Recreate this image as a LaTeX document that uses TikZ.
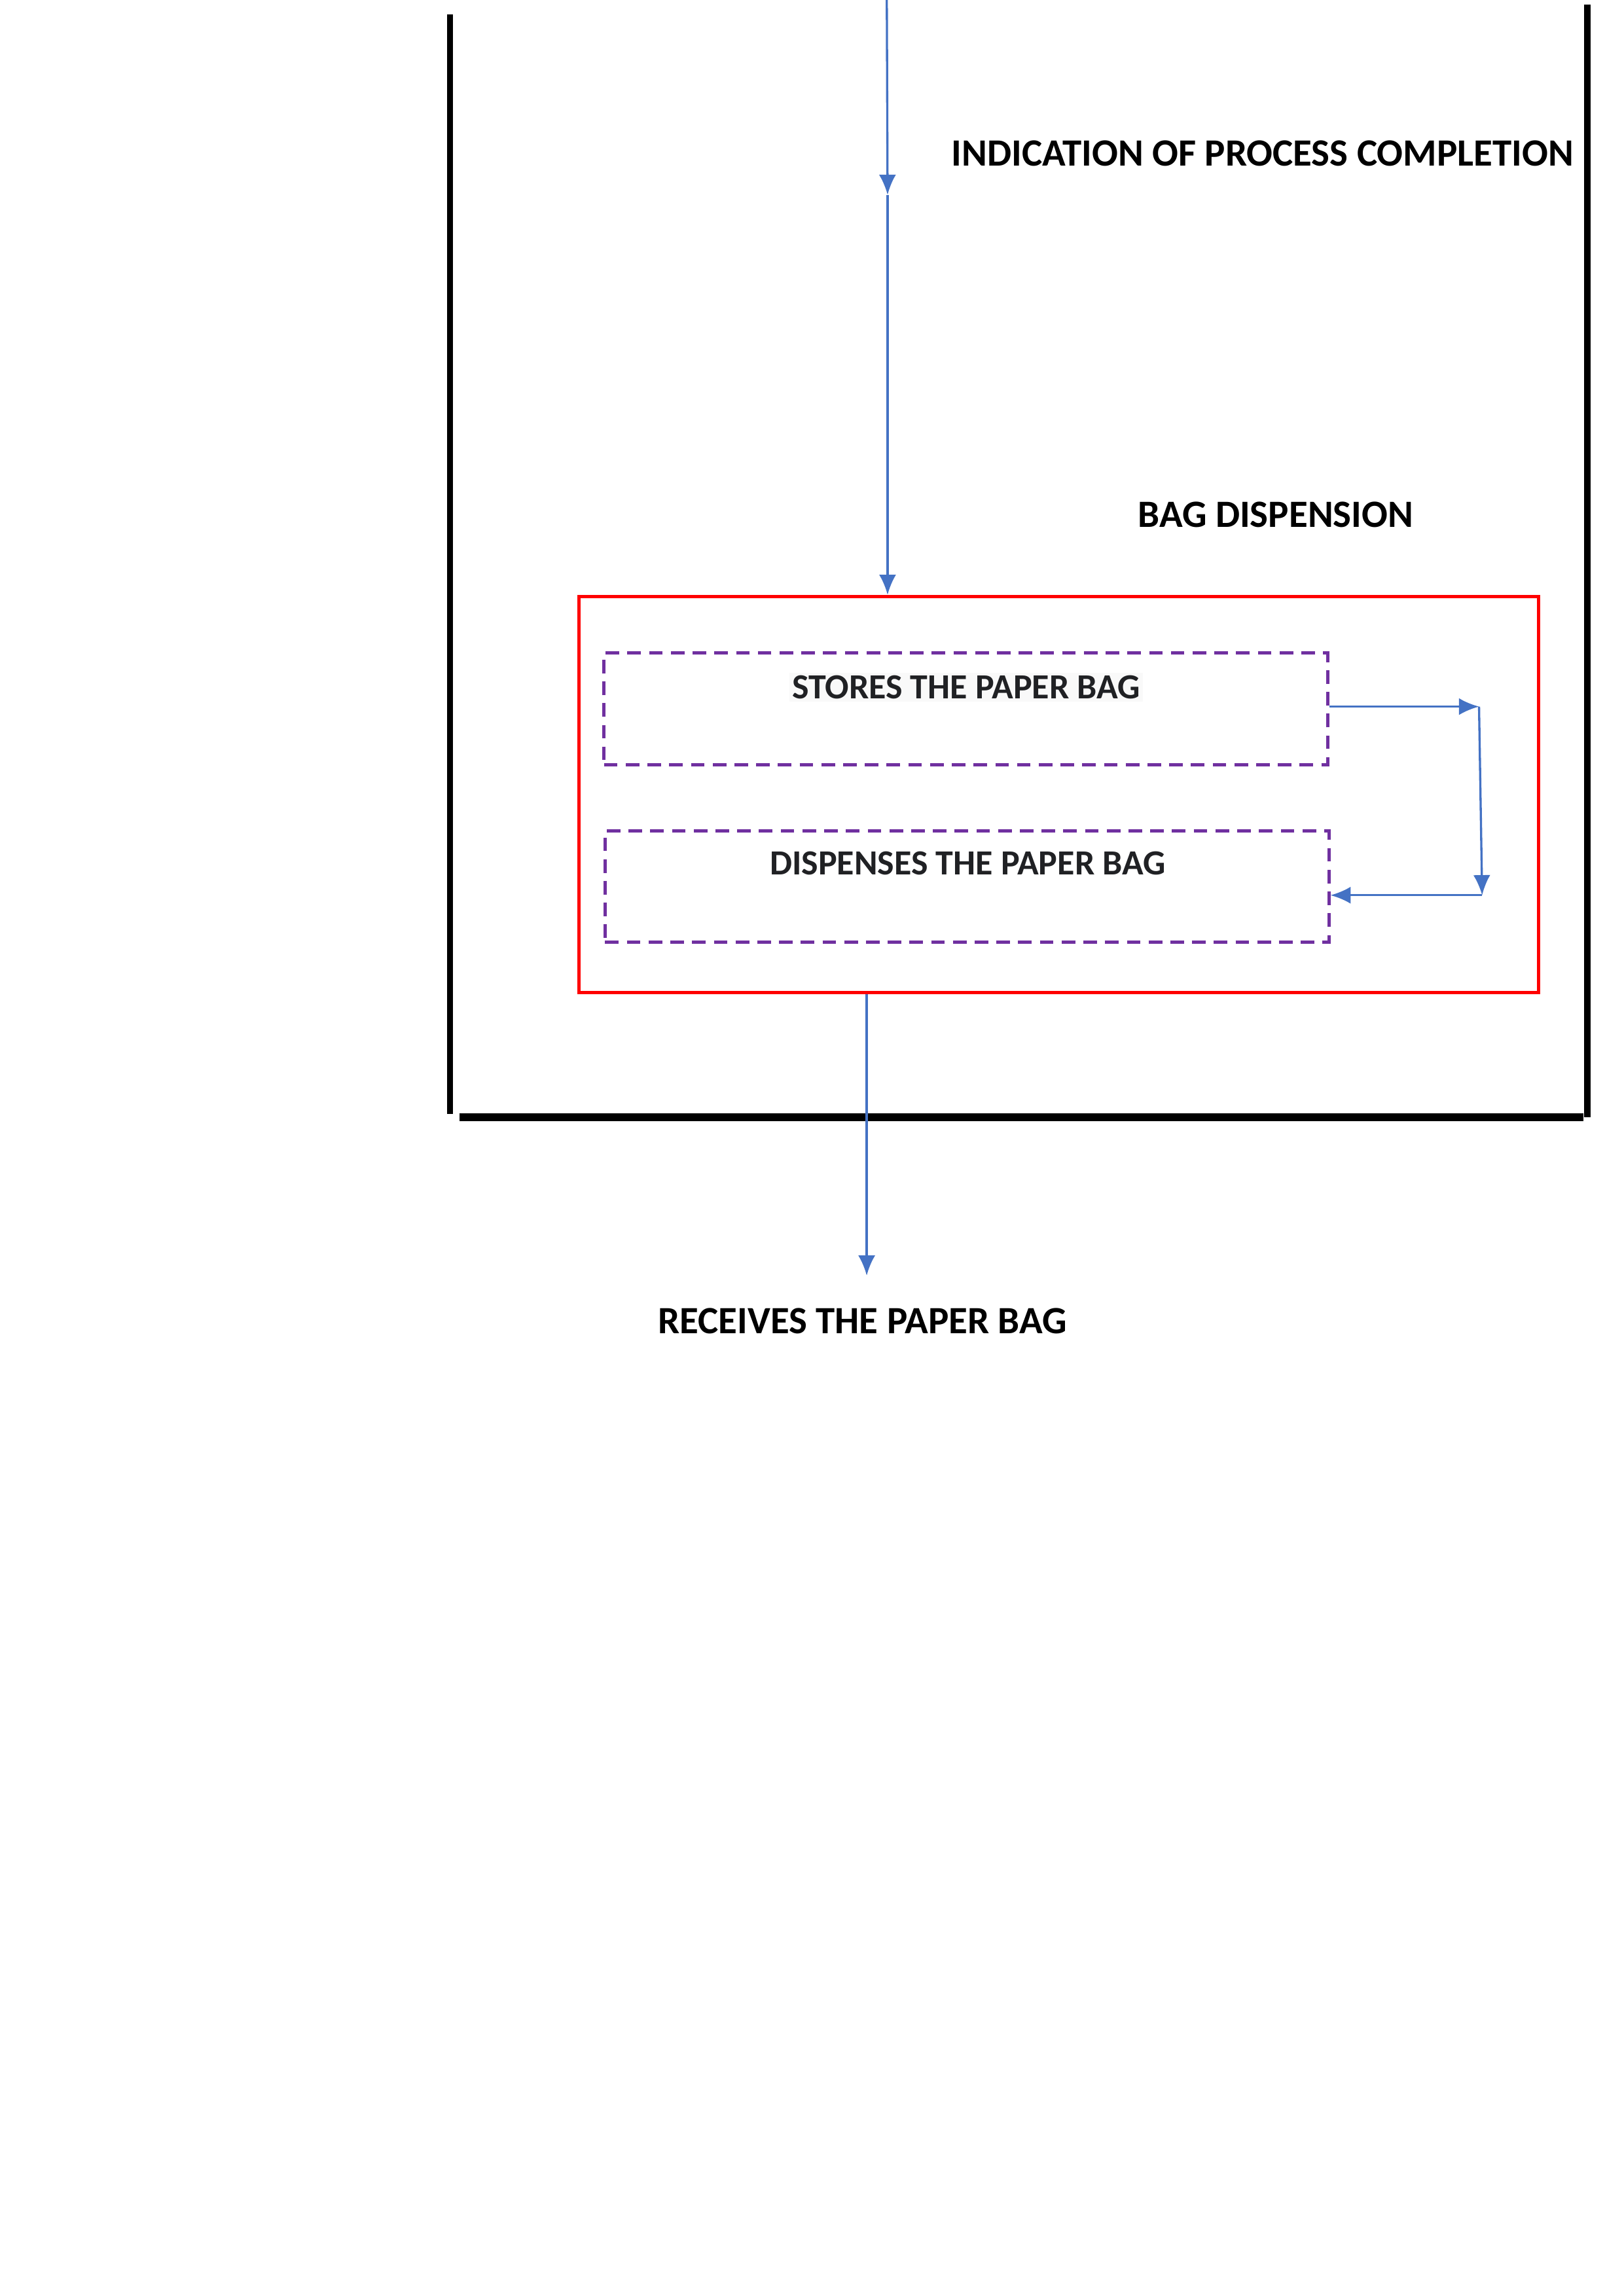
\documentclass[tikz,border=0pt]{standalone}
\usepackage{fontspec}
\setmainfont{Carlito}
\usetikzlibrary{arrows.meta}
\definecolor{flowblue}{HTML}{4472C4}
\definecolor{stagepurple}{HTML}{7030A0}
\definecolor{stagetext}{HTML}{202124}

\begin{document}
\begin{tikzpicture}[
  flow/.style={draw=flowblue,line width=0.8pt,-{Latex[length=2.6mm,width=2.2mm]}},
  stagebox/.style={draw=stagepurple,line width=1.2pt,dash pattern=on 5pt off 3pt,minimum width=9.36cm,minimum height=1.44cm,inner sep=0pt},
  stagelabel/.style={font=\bfseries\fontsize{13}{15}\selectfont,text=stagetext,inner sep=1pt},
  caption/.style={font=\bfseries\fontsize{14.2}{16}\selectfont}
]
\useasboundingbox (0,0) rectangle (21,-29.7);

% housing
\draw[line width=2.3pt] (5.82,-0.19) -- (5.82,-14.41);
\draw[line width=2.3pt] (20.53,-0.06) -- (20.53,-14.45);
\draw[line width=2.8pt] (5.94,-14.45) -- (20.48,-14.45);

\node[caption] (completion) at (16.33,-1.98) {INDICATION OF PROCESS COMPLETION};
\node[caption] (dispension) at (16.50,-6.66) {BAG DISPENSION};

\node[draw=red,line width=1.3pt,minimum width=12.41cm,minimum height=5.12cm,inner sep=0pt] (unit) at (13.694,-10.277) {};
\node[stagebox] (store) at (12.492,-9.169) {};
\node[stagebox] (dispense) at (12.507,-11.469) {};
\node[stagelabel,fill=gray!5] (storetext) at (12.497,-8.891) {STORES THE PAPER BAG};
\node[stagelabel] (dispensetext) at (12.517,-11.166) {DISPENSES THE PAPER BAG};

\node[caption] (receive) at (11.156,-17.087) {RECEIVES THE PAPER BAG};

\coordinate (feed) at (11.47,0);
\coordinate (feedmid) at (11.48,-2.52);
\coordinate (turnA) at (19.13,-9.14);
\coordinate (turnB) at (19.17,-11.58);
\coordinate (exit) at (11.21,-16.50);

\draw[flow] (feed) -- (feedmid);
\draw[flow] (feedmid) -- (feedmid |- unit.north);
\draw[flow] (store.east |- turnA) -- (turnA);
\draw[flow] (turnA) -- (turnB);
\draw[flow] (turnB) -- (dispense.east |- turnB);
\draw[flow] (exit |- unit.south) -- (exit);
\end{tikzpicture}
\end{document}
